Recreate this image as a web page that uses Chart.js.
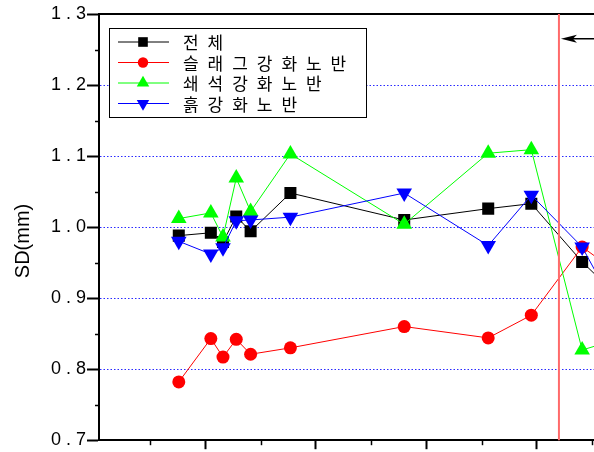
<!DOCTYPE html>
<html>
<head>
<meta charset="utf-8">
<script src="https://cdn.jsdelivr.net/npm/chart.js@4.4.1/dist/chart.umd.min.js"></script>
<style>
html,body{margin:0;padding:0;background:#fff;overflow:hidden;}
#wrap{width:594px;height:452px;overflow:hidden;}
</style>
</head>
<body>
<div id="wrap"><canvas id="sd" width="660" height="452"></canvas></div>
<script>

// -----------------------------
// DATA
// -----------------------------

const xVals = [0.76, 1.05, 1.16, 1.28, 1.41, 1.77, 2.80, 3.56, 3.95, 4.41, 4.75];

const totalSD   = [0.988, 0.992, 0.979, 1.015, 0.994, 1.048, 1.010, 1.026, 1.033, 0.951, 0.900];
const slagSD    = [0.782, 0.843, 0.817, 0.842, 0.821, 0.830, 0.860, 0.844, 0.876, 0.972, 0.934];
const crushedSD = [1.012, 1.020, 0.986, 1.069, 1.022, 1.103, 1.004, 1.104, 1.109, 0.827, 0.843];
const soilSD    = [0.980, 0.962, 0.971, 1.009, 1.010, 1.014, 1.048, 0.974, 1.045, 0.972, 0.875];

const seriesNames = ["전체", "슬래그강화노반", "쇄석강화노반", "흙강화노반"];

const yTicks = [0.7, 0.8, 0.9, 1.0, 1.1, 1.2, 1.3];
const yMinor = [0.75, 0.85, 0.95, 1.05, 1.15, 1.25];
const xTicks = [1, 2, 3, 4, 5];
const xMinor = [0.5, 1.5, 2.5, 3.5, 4.5];

const markX = 4.20;     // red vertical line
const arrowY = 1.265;   // arrow height

// -----------------------------
// HELPERS
// -----------------------------

function pts(ys){
return ys.map((y,i)=>({x:xVals[i], y:y}));
}

function mark(ctx, style, rot, r, x, y, color){
ctx.save();
ctx.fillStyle = color;
ctx.strokeStyle = color;
Chart.helpers.drawPoint(ctx, {pointStyle:style, rotation:rot, radius:r, borderWidth:0}, x, y);
ctx.restore();
}

// -----------------------------
// EXTRAS: frame, minor ticks, marker line, legend
// -----------------------------

const extras = {
id:"extras",
afterDraw(chart){
const ctx = chart.ctx;
const a = chart.chartArea;
const xs = chart.scales.x;
const ys = chart.scales.y;

ctx.save();
// top frame
ctx.strokeStyle = "#000";
ctx.lineWidth = 2;
ctx.beginPath();
ctx.moveTo(a.left - 1, a.top);
ctx.lineTo(a.right, a.top);
ctx.stroke();

// minor ticks
ctx.lineWidth = 1.5;
yMinor.forEach(v=>{
const py = Math.round(ys.getPixelForValue(v)) + 0.5;
ctx.beginPath();
ctx.moveTo(a.left - 4, py);
ctx.lineTo(a.left, py);
ctx.stroke();
});
xMinor.forEach(v=>{
const px = Math.round(xs.getPixelForValue(v)) + 0.5;
ctx.beginPath();
ctx.moveTo(px, a.bottom);
ctx.lineTo(px, a.bottom + 5);
ctx.stroke();
});

// red vertical line
const mx = xs.getPixelForValue(markX);
ctx.strokeStyle = "#ff6a6a";
ctx.lineWidth = 2;
ctx.beginPath();
ctx.moveTo(mx, a.top);
ctx.lineTo(mx, a.bottom);
ctx.stroke();

// arrow
const ay = ys.getPixelForValue(arrowY);
const tip = mx + 2;
ctx.strokeStyle = "#000";
ctx.fillStyle = "#000";
ctx.lineWidth = 1.5;
ctx.beginPath();
ctx.moveTo(tip + 10, ay);
ctx.lineTo(a.right, ay);
ctx.stroke();
ctx.beginPath();
ctx.moveTo(tip, ay);
ctx.lineTo(tip + 16, ay - 4);
ctx.lineTo(tip + 12, ay);
ctx.lineTo(tip + 16, ay + 4);
ctx.closePath();
ctx.fill();

// legend
const lx = 109, ly = 28, lw = 257, lh = 89;
ctx.fillStyle = "#fff";
ctx.fillRect(lx, ly, lw, lh);
ctx.strokeStyle = "#000";
ctx.lineWidth = 1;
ctx.strokeRect(lx + 0.5, ly + 0.5, lw, lh);

chart.data.datasets.forEach((ds,i)=>{
const ry = ly + 14 + i * 20.5;
ctx.strokeStyle = ds.borderColor;
ctx.lineWidth = 1;
ctx.beginPath();
ctx.moveTo(lx + 9, ry);
ctx.lineTo(lx + 60, ry);
ctx.stroke();
mark(ctx, ds.pointStyle, ds.pointRotation || 0, ds.pointRadius * 0.8, lx + 34, ry, ds.pointBackgroundColor);

ctx.fillStyle = "#000";
ctx.font = "17px 'Noto Sans CJK KR'";
ctx.textBaseline = "middle";
ctx.textAlign = "left";
Array.from(ds.label).forEach((ch,k)=>{
ctx.fillText(ch, lx + 74 + k * 24.6, ry + 1);
});
});

ctx.restore();
}
};

// -----------------------------
// CHART
// -----------------------------

function series(label, ys, color, style, r, rot, order){
return {
label:label,
data:pts(ys),
borderColor:color,
backgroundColor:color,
pointBackgroundColor:color,
pointBorderColor:color,
pointBorderWidth:0,
borderWidth:1,
pointStyle:style,
pointRadius:r,
pointRotation:rot,
tension:0,
order:order
};
}

new Chart(document.getElementById("sd").getContext("2d"),{
type:"line",
data:{
datasets:[
series(seriesNames[0], totalSD, "#000000", "rect", 8.5, 0, 3),
series(seriesNames[1], slagSD, "#ff0000", "circle", 6.5, 0, 2),
series(seriesNames[2], crushedSD, "#00ff00", "triangle", 9, 0, 1),
series(seriesNames[3], soilSD, "#0000ff", "triangle", 9, 180, 0)
]
},
options:{
responsive:false,
devicePixelRatio:1,
animation:false,
layout:{padding:{top:14, right:10, left:0, bottom:0}},
plugins:{legend:{display:false}, tooltip:{enabled:false}},
scales:{
x:{
type:"linear",
min:0.038,
max:5.024,
afterBuildTicks(s){ s.ticks = xTicks.map(v=>({value:v})); },
afterFit(s){ s.height = 10; },
ticks:{display:false},
grid:{drawOnChartArea:false, tickLength:9, tickWidth:2, tickColor:"#000"},
border:{display:true, color:"#000", width:2}
},
y:{
type:"linear",
min:0.7,
max:1.3,
afterBuildTicks(s){ s.ticks = yTicks.map(v=>({value:v})); },
afterFit(s){ s.width = 99; },
ticks:{
color:"#000",
padding:1,
font:{family:"'Liberation Sans', Arial", size:18},
callback:(v)=>v.toFixed(1).split("").join(" ")
},
grid:{
color:(c)=>{
const v = c.tick ? c.tick.value : 0;
return (v > 0.75 && v < 1.25) ? "#2a2aff" : "rgba(0,0,0,0)";
},
lineWidth:1,
tickLength:12,
tickWidth:2,
tickColor:"#000",
tickBorderDash:[]
},
border:{display:true, color:"#000", width:2, dash:[1.5,2]},
title:{
display:true,
text:"SD(mm)     ",
color:"#000",
font:{family:"'Liberation Sans', Arial", size:20},
padding:{top:11, bottom:0}
}
}
}
},
plugins:[extras]
});

</script>
</body>
</html>
